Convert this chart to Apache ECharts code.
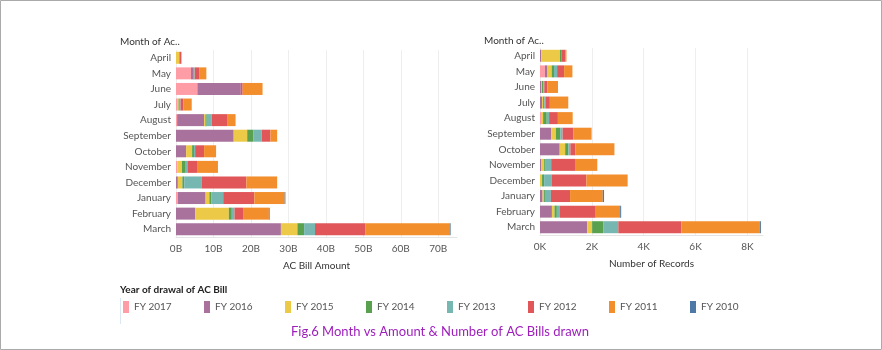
<!DOCTYPE html>
<html>
<head>
<meta charset="utf-8">
<script src="https://cdn.jsdelivr.net/npm/echarts@6/dist/echarts.min.js"></script>
<style>
  html, body { margin: 0; padding: 0; background: #fff; }
  #chart { width: 882px; height: 350px; }
</style>
</head>
<body>
<div id="chart"></div>
<script>
// months, fiscal-year order (top to bottom)
const months = ['April', 'May', 'June', 'July', 'August', 'September', 'October',
  'November', 'December', 'January', 'February', 'March']

const years = ['FY 2017', 'FY 2016', 'FY 2015', 'FY 2014', 'FY 2013', 'FY 2012', 'FY 2011', 'FY 2010']
const colors = ['#ff9da7', '#a8729c', '#edc948', '#59a14f', '#76b7b2', '#e15759', '#f28e2b', '#4e79a7']

// AC bill amount, in billions
const amt2017 = [0, 4.0, 5.7, 0.3, 0.3, 0, 0, 0.4, 0, 0.5, 0, 0]
const amt2016 = [0, 0.7, 11.6, 0.1, 7.2, 15.4, 2.7, 0, 0.5, 7.4, 5.1, 28.0]
const amt2015 = [0.9, 0, 0, 0.3, 0.35, 3.6, 1.6, 1.2, 1.2, 1.0, 9.0, 4.4]
const amt2014 = [0, 0.2, 0, 0.1, 0.35, 1.7, 0.5, 0.8, 0.5, 0.5, 0.8, 1.8]
const amt2013 = [0, 0.1, 0, 0.4, 1.3, 2.2, 0.3, 0.8, 4.6, 3.2, 0.7, 2.9]
const amt2012 = [0.5, 1.3, 0.5, 0.8, 4.3, 2.3, 2.4, 2.4, 12.0, 8.3, 2.3, 13.5]
const amt2011 = [0.1, 1.8, 5.3, 2.2, 2.1, 1.8, 3.2, 5.6, 8.2, 8.1, 6.9, 22.4]
const amt2010 = [0, 0, 0, 0, 0, 0, 0, 0, 0, 0.2, 0.2, 0.3]

// number of records
const rec2017 = [0, 190, 0, 0, 40, 0, 0, 0, 0, 0, 0, 0]
const rec2016 = [50, 80, 50, 80, 0, 430, 760, 40, 0, 100, 460, 1820]
const rec2015 = [720, 180, 25, 40, 80, 180, 210, 120, 80, 50, 100, 190]
const rec2014 = [50, 90, 50, 50, 140, 170, 120, 60, 80, 40, 90, 440]
const rec2013 = [0, 120, 40, 60, 90, 90, 80, 210, 300, 230, 120, 570]
const rec2012 = [150, 270, 120, 150, 340, 410, 190, 920, 1330, 740, 1380, 2430]
const rec2011 = [50, 320, 410, 710, 570, 710, 1510, 860, 1590, 1260, 940, 3030]
const rec2010 = [0, 0, 0, 0, 0, 0, 0, 0, 0, 50, 40, 40]

const amounts = [amt2017, amt2016, amt2015, amt2014, amt2013, amt2012, amt2011, amt2010]
const records = [rec2017, rec2016, rec2015, rec2014, rec2013, rec2012, rec2011, rec2010]

const font = 'Lato'
const gray = '#555'

const series = []
years.forEach((name, i) => {
  series.push({
    name: name,
    type: 'bar',
    stack: 'amount',
    xAxisIndex: 0,
    yAxisIndex: 0,
    barWidth: 12,
    itemStyle: { color: colors[i] },
    data: amounts[i].map(v => v * 1e9)
  })
  series.push({
    name: name,
    type: 'bar',
    stack: 'records',
    xAxisIndex: 1,
    yAxisIndex: 1,
    barWidth: 12,
    itemStyle: { color: colors[i] },
    data: records[i]
  })
})

const xCommon = {
  type: 'value',
  nameLocation: 'middle',
  nameGap: 24,
  nameTextStyle: { fontFamily: font, fontSize: 10, color: '#333' },
  axisLine: { show: true, lineStyle: { color: '#e4e4e4' } },
  axisTick: { show: false },
  splitLine: { showMaxLine: false, lineStyle: { color: '#eeeeee' } },
  axisLabel: { fontFamily: font, fontSize: 10, color: gray, margin: 7, showMaxLabel: false }
}

const yCommon = {
  type: 'category',
  inverse: true,
  data: months,
  axisLine: { show: false },
  axisTick: { show: false },
  axisLabel: { fontFamily: font, fontSize: 10, color: gray, margin: 5 }
}

// one legend per year so the items sit on a fixed 81px pitch
const legends = years.map((name, i) => ({
  data: [name],
  left: 123 + 81 * i,
  top: 301,
  padding: 0,
  icon: 'rect',
  itemWidth: 6,
  itemHeight: 12,
  itemGap: 5,
  selectedMode: false,
  textStyle: { fontFamily: font, fontSize: 10, color: gray }
}))

const chart = echarts.init(document.getElementById('chart'))
chart.setOption({
  animation: false,
  grid: [
    { left: 176, top: 50, width: 281, height: 187 },
    { left: 540, top: 48, width: 223, height: 187 }
  ],
  xAxis: [
    Object.assign({}, xCommon, {
      gridIndex: 0, min: 0, max: 75e9, interval: 10e9, name: 'AC Bill Amount',
      axisLabel: Object.assign({}, xCommon.axisLabel, { formatter: v => (v / 1e9) + 'B' })
    }),
    Object.assign({}, xCommon, {
      gridIndex: 1, min: 0, max: 8600, interval: 2000, name: 'Number of Records',
      axisLabel: Object.assign({}, xCommon.axisLabel, { formatter: v => (v / 1000) + 'K' })
    })
  ],
  yAxis: [
    Object.assign({}, yCommon, { gridIndex: 0 }),
    Object.assign({}, yCommon, { gridIndex: 1 })
  ],
  legend: legends,
  graphic: [
    {
      type: 'rect',
      shape: { x: 0.5, y: 0.5, width: 881, height: 349 },
      style: { fill: 'none', stroke: '#aaaaaa', lineWidth: 1 }
    },
    {
      type: 'text', left: 120, top: 37,
      style: { text: 'Month of Ac..', fontFamily: font, fontSize: 10, fill: '#333' }
    },
    {
      type: 'text', left: 484, top: 36,
      style: { text: 'Month of Ac..', fontFamily: font, fontSize: 10, fill: '#333' }
    },
    {
      type: 'text', left: 120, top: 285,
      style: { text: 'Year of drawal of AC Bill', fontFamily: font, fontSize: 10, fontWeight: 'bold', fill: '#222' }
    },
    {
      type: 'rect',
      shape: { x: 120, y: 298, width: 1, height: 26 },
      style: { fill: '#dbe8f3' }
    },
    {
      type: 'text', x: 440, y: 332,
      style: {
        text: 'Fig.6 Month vs Amount & Number of AC Bills drawn', fontFamily: font, fontSize: 13,
        fill: '#9e1fbc', align: 'center', verticalAlign: 'middle'
      }
    }
  ],
  series: series
})
</script>
</body>
</html>
